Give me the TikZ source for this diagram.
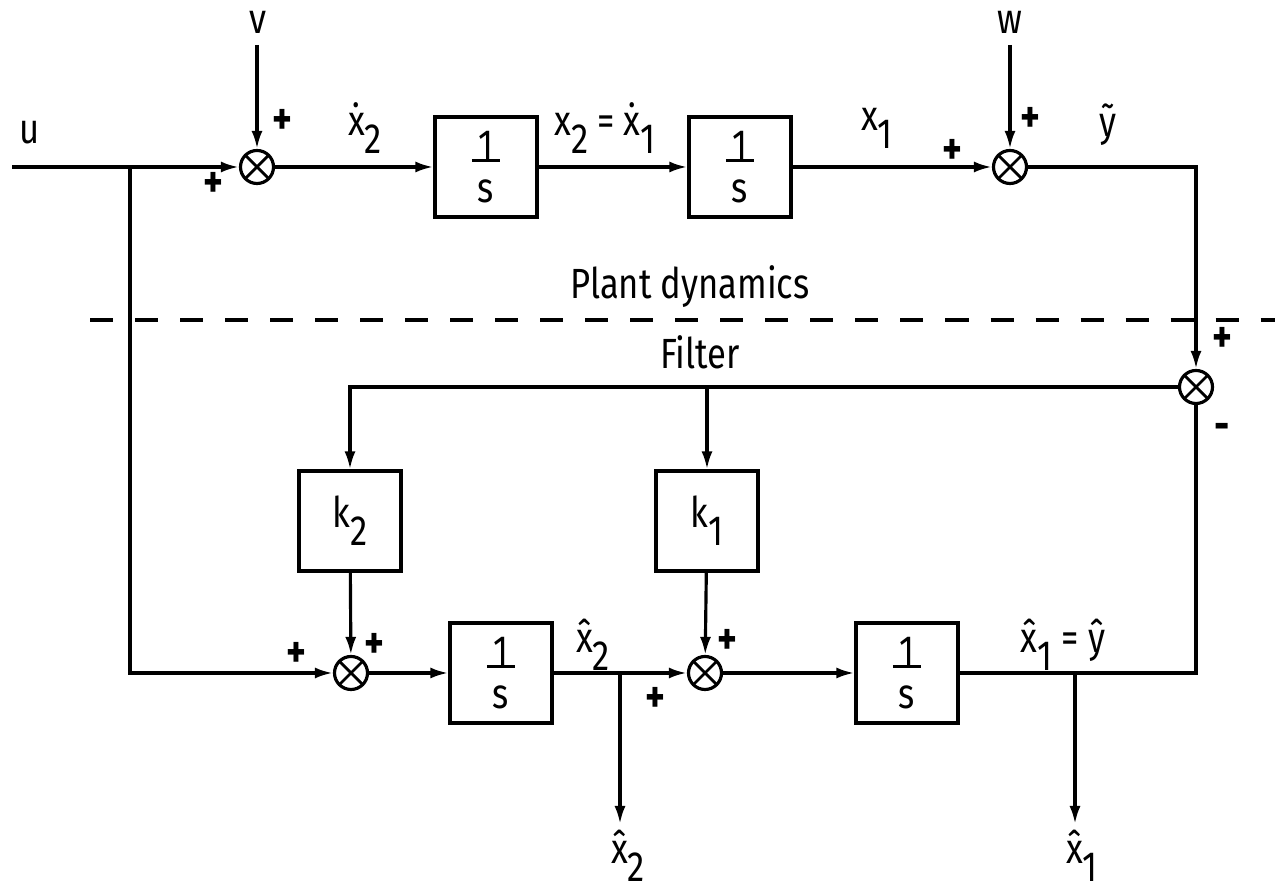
\documentclass[tikz,border=0pt]{standalone}
\usepackage{fontspec}
\setmainfont{Fira Sans}[FakeStretch=0.82]
\usetikzlibrary{arrows.meta}
\newcommand{\sbs}[1]{\raisebox{-0.8ex}{#1}}
\newcommand{\ovs}{\shortstack{1\\[-3pt]\rule{0.28cm}{0.9pt}\\[2pt]s}}

\begin{document}
\begin{tikzpicture}[x=0.01cm, y=-0.01cm, line width=0.9pt,
  every node/.style={font=\fontsize{12}{14}\selectfont},
  blk/.style={draw, minimum width=1.02cm, minimum height=1.0cm, inner sep=0pt},
  sumj/.style={draw, circle, minimum size=0.33cm, inner sep=0pt,
    path picture={\draw[line width=0.8pt]
      (path picture bounding box.north west) -- (path picture bounding box.south east)
      (path picture bounding box.north east) -- (path picture bounding box.south west);}},
  sig/.style={-{Latex[length=1.8mm,width=1.1mm]}},
  sgn/.style={font=\fontsize{13}{14}\selectfont\bfseries}]
\useasboundingbox (0,0) rectangle (1275,895);
% ---- plant
\coordinate (uin) at (12,167);
\coordinate (tap) at (130,167);
\coordinate (vin) at (257,45);
\coordinate (win) at (1010,45);
\node[sumj] (s1) at (257,167) {};
\node[blk] (i1) at (486,167) {\ovs};
\node[blk] (i2) at (740,167) {\ovs};
\node[sumj] (s2) at (1010,167) {};
\draw[sig] (uin) -- (s1);
\draw[sig] (vin) -- (s1);
\draw[sig] (s1) -- (i1);
\draw[sig] (i1) -- (i2);
\draw[sig] (i2) -- (s2);
\draw[sig] (win) -- (s2);
\node at (30,133) {u};
\node at (258,22) {v};
\node at (1010,22) {w};
\node[sgn] at (282,122) {+};
\node[sgn] at (213,185) {+};
\node at (365,128) {\.{x}\sbs{2}};
\node at (605,128) {x\sbs{2} = \.{x}\sbs{1}};
\node at (877,128) {x\sbs{1}};
\node[sgn] at (952,152) {+};
\node[sgn] at (1030,120) {+};
\node at (1108,125) {\~{y}};
% ---- boundary
\draw[dash pattern=on 0.23cm off 0.22cm] (90,320) -- (1275,320);
\node at (690,287) {Plant dynamics};
\node at (700,352) {Filter};
% ---- filter
\node[sumj] (s3) at (1196,387) {};
\coordinate (fbk) at (707,387);
\node[blk] (g2) at (350,521) {k\sbs{2}};
\node[blk] (g1) at (707,521) {k\sbs{1}};
\node[sumj] (s4) at (351,673) {};
\node[blk] (i3) at (501,673) {\ovs};
\node[sumj] (s5) at (705,673) {};
\node[blk] (i4) at (907,673) {\ovs};
\coordinate (x2o) at (620,673);
\coordinate (x2e) at (620,824);
\coordinate (x1o) at (1075,673);
\coordinate (x1e) at (1075,824);
\draw[sig] (s2) -| (s3);
\draw[sig] (s3) -| (g2);
\draw[sig] (fbk) -- (g1);
\draw[sig] (g2) -- (s4);
\draw[sig] (tap) |- (s4);
\draw[sig] (s4) -- (i3);
\draw[sig] (i3) -- (s5);
\draw[sig] (g1) -- (s5);
\draw[sig] (s5) -- (i4);
\draw (i4) -| (s3);
\draw[sig] (x2o) -- (x2e);
\draw[sig] (x1o) -- (x1e);
\node[sgn] at (1222,340) {+};
\node[sgn] at (1222,432) {-};
\node[sgn] at (374,646) {+};
\node[sgn] at (296,655) {+};
\node[sgn] at (727,642) {+};
\node[sgn] at (655,700) {+};
\node at (593,645) {\^{x}\sbs{2}};
\node at (1063,645) {\^{x}\sbs{1} = \^{y}};
\node at (628,856) {\^{x}\sbs{2}};
\node at (1082,856) {\^{x}\sbs{1}};
\end{tikzpicture}
\end{document}
